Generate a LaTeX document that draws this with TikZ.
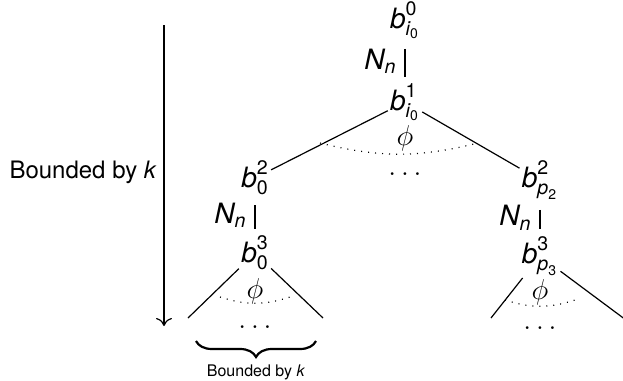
\documentclass[tikz,border=0pt]{standalone}
\usepackage{amsmath}
\usepackage{fontspec}
\setmainfont{TeX Gyre Heros}
\usepackage{tikz}
\usetikzlibrary{positioning,decorations.pathreplacing,arrows.meta}

\newcommand{\bv}[2]{$\textit{b}_{#1}^{\text{#2}}$}
\newcommand{\Nn}{$\textit{N}_{\textit{n}}$}

\begin{document}
\begin{tikzpicture}[
x=0.5pt, y=0.5pt,
font=\fontsize{12pt}{14pt}\selectfont,
state/.style={inner sep = 1pt, font=\fontsize{14pt}{16pt}\selectfont},
glyph/.style={inner sep = 1pt, font=\fontsize{14pt}{16pt}\selectfont},
chain/.style={-, line width=0.6pt, shorten <=4pt, shorten >=2.3pt},
cone/.style={-, line width=0.6pt},
horizon/.style={line width=0.6pt, dash pattern=on 0.5pt off 3pt, bend right=14},
bound/.style ={-{To[length=4pt, width=8pt]}, line width=0.6pt}]

\useasboundingbox (0,0) rectangle (623,-381);

\node[state] (b0) at (405,-20) {\bv{\textit{i}_{\text{0}}}{0}};
\node[state] (b1) at (405,-102) {\bv{\textit{i}_{\text{0}}}{1}};
\node[state] (bL2) at (255,-178) {\bv{\text{0}}{2}};
\node[state] (bR2) at (540,-180) {\bv{\textit{p}_{\text{2}}}{2}};
\node[state] (bL3) at (255,-253) {\bv{\text{0}}{3}};
\node[state] (bR3) at (540,-256) {\bv{\textit{p}_{\text{3}}}{3}};

% phi levels and dots
\node[glyph] (p1) at (405,-138) {$\phi$};
\node[glyph] (d1) at (405,-174) {$\ldots$};
\node[glyph] (pL) at (255,-291) {$\phi$};
\node[glyph] (dL) at (255,-327) {$\ldots$};
\node[glyph] (pR) at (540,-292) {$\phi$};
\node[glyph] (dR) at (540,-328) {$\ldots$};

\coordinate (h1a) at (320,-143);
\coordinate (h1b) at (478,-143);
\coordinate (hLa) at (220,-297);
\coordinate (hLb) at (290,-297);
\coordinate (hRa) at (505,-300);
\coordinate (hRb) at (575,-300);

\coordinate (cLa) at (188,-318);
\coordinate (cLb) at (323,-318);
\coordinate (cRa) at (491,-318);
\coordinate (cRb) at (626,-320);

\draw[chain] (b0) -- node[left=3pt, glyph] {\Nn} (b1);
\draw[chain] (bL2) -- node[left=3pt, glyph] {\Nn} (bL3);
\draw[chain] (bR2) -- node[left=3pt, glyph] {\Nn} (bR3);

\draw[cone] (b1) -- (bL2);
\draw[cone] (b1) -- (bR2);
\draw[cone] (bL3) -- (cLa);
\draw[cone] (bL3) -- (cLb);
\draw[cone] (bR3) -- (cRa);
\draw[cone] (bR3) -- (cRb);

\draw[horizon] (h1a) to (h1b);
\draw[horizon, bend right=18] (hLa) to (hLb);
\draw[horizon, bend right=18] (hRa) to (hRb);

% depth bound
\coordinate (aTop) at (164,-25);
\coordinate (aBot) at (164,-326);
\draw[bound] (aTop) -- node[left, pos=0.49] {Bounded by \textit{k}} (aBot);

% width bound
\coordinate (brL) at (196,-341);
\coordinate (brR) at (316,-341);
\draw[decorate, decoration={brace, mirror, amplitude=8pt}, line width=1.1pt] (brL) -- node[below=8pt, font=\footnotesize] {Bounded by \textit{k}} (brR);
\end{tikzpicture}
\end{document}
